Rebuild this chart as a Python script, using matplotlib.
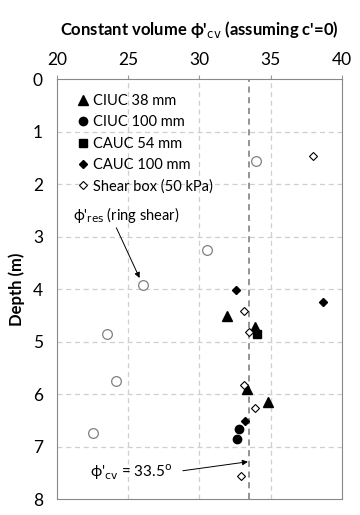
import numpy as np
import matplotlib
matplotlib.use("Agg")
import matplotlib.pyplot as plt

plt.rcParams['font.family'] = ['Lato', 'DejaVu Sans']

# friction angle (deg) vs depth (m)
ciuc38_phi = [31.95, 33.9, 33.33, 34.8]
ciuc38_z = [4.51, 4.72, 5.90, 6.16]
ciuc100_phi = [32.75, 32.63]
ciuc100_z = [6.67, 6.86]
cauc54_phi = [34.06]
cauc54_z = [4.85]
cauc100_phi = [32.58, 38.67, 33.22]
cauc100_z = [4.01, 4.24, 6.51]
sbox_phi = [37.94, 33.12, 33.47, 33.12, 33.92, 32.91]
sbox_z = [1.46, 4.41, 4.82, 5.82, 6.27, 7.57]
ring_phi = [34.0, 30.53, 26.06, 23.53, 24.12, 22.55]
ring_z = [1.56, 3.25, 3.92, 4.86, 5.75, 6.75]
phi_cv = 33.5

fig = plt.figure(figsize=(3.6, 5.15), dpi=100)
ax = fig.add_axes([0.158, 0.031, 0.792, 0.8156])

for v in [25, 30, 35]:
    ax.axvline(v, color='#cfcfcf', lw=0.9, ls=(0, (4, 3)), zorder=0)
for h in range(1, 8):
    ax.axhline(h, color='#cfcfcf', lw=0.9, ls=(0, (4, 3)), zorder=0)
ax.axvline(phi_cv, color='#777777', lw=1.1, ls=(0, (4, 3)), zorder=1)

ax.plot(ciuc38_phi, ciuc38_z, '^', color='black', ms=6.5, ls='none', label='CIUC 38 mm')
ax.plot(ciuc100_phi, ciuc100_z, 'o', color='black', ms=6, ls='none', label='CIUC 100 mm')
ax.plot(cauc54_phi, cauc54_z, 's', color='black', ms=6, ls='none', label='CAUC 54 mm')
ax.plot(cauc100_phi, cauc100_z, 'D', color='black', ms=4.5, ls='none', label='CAUC 100 mm')
ax.plot(sbox_phi, sbox_z, 'D', mfc='white', mec='black', mew=0.8, ms=4.5, ls='none',
        label='Shear box (50 kPa)', zorder=3)
ax.plot(ring_phi, ring_z, 'o', mfc='white', mec='#808080', mew=0.9, ms=7, ls='none', zorder=3)

ax.set_xlim(20, 40)
ax.set_ylim(8, 0)
ax.xaxis.tick_top()
ax.xaxis.set_label_position('top')
ax.set_xticks([20, 25, 30, 35, 40])
ax.set_yticks(range(0, 9))
ax.tick_params(labelsize=12.5, length=3, color='#999999', pad=5)
ax.tick_params(axis='y', length=0, pad=10)
for s in ax.spines.values():
    s.set_color('#888888')
ax.set_xlabel("Constant volume ϕ'$_{\\rm cv}$ (assuming c'=0)", fontsize=12,
              fontweight='bold', labelpad=12)
ax.set_ylabel('Depth (m)', fontsize=12, fontweight='bold', labelpad=6)

leg = ax.legend(loc='upper left', frameon=False, fontsize=10.5, handletextpad=0.1,
                handlelength=1.2, labelspacing=0.5, borderaxespad=0.2,
                bbox_to_anchor=(0.03, 0.985))

ax.annotate("ϕ'$_{\\rm res}$ (ring shear)", xy=(25.8, 3.79), xytext=(21.1, 2.59),
            fontsize=10.5, va='center', ha='left',
            arrowprops=dict(arrowstyle='-|>', color='black', lw=0.7,
                            shrinkA=0, shrinkB=0, mutation_scale=8,
                            relpos=(0.4, 0.0)))
ax.annotate("ϕ'$_{\\rm cv}$ = 33.5$^{\\rm o}$", xy=(33.4, 7.29), xytext=(22.3, 7.49),
            fontsize=11, va='center', ha='left',
            arrowprops=dict(arrowstyle='-|>', color='black', lw=0.7,
                            shrinkA=6, shrinkB=0, mutation_scale=8,
                            relpos=(1.0, 0.5)))

fig.savefig('out.png', dpi=100)
